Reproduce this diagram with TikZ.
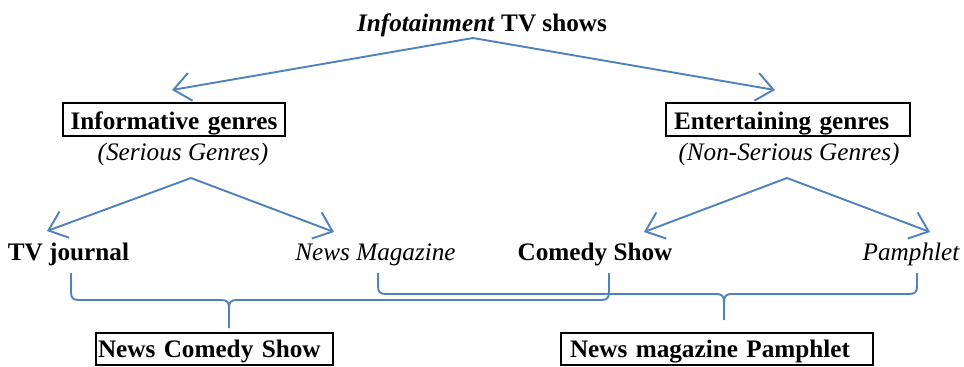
\documentclass[tikz,border=0pt]{standalone}
\usepackage{fontspec}
\setmainfont{Liberation Serif}
\usetikzlibrary{arrows.meta}
\definecolor{lineblue}{RGB}{79,129,189}
\newcommand{\fs}{\fontsize{12.6}{14}\selectfont}
\begin{document}
\begin{tikzpicture}[x=0.5pt,y=-0.5pt,
  conn/.style={draw=lineblue, line width=0.95pt},
  arr/.style={conn, -{Straight Barb[length=8.5pt,width=14pt,line width=0.95pt]}},
  lbl/.style={inner sep=0pt, anchor=base, font=\fs},
  gbox/.style={draw=black, line width=1pt, inner ysep=0pt, anchor=west,
    text height=13pt, text depth=3.5pt, font=\fs\bfseries},
  bbox/.style={gbox, text height=12pt, text depth=4pt}]
\useasboundingbox (0,0) rectangle (964,366);

% texts
\node[lbl] (title) at (482,31) {\textbf{\textit{Infotainment} TV shows}};
\node[gbox, inner xsep=3.5pt, text width=104pt, align=center] (info) at (62,119.5) {Informative genres};
\node[gbox, inner xsep=4pt, text width=114pt, align=left] (ent) at (665,119.5) {Entertaining genres};
\node[lbl, font=\fs\itshape] (ser) at (183,160) {(Serious Genres)};
\node[lbl, font=\fs\itshape] (nonser) at (789,160) {(Non-Serious Genres)};
\node[lbl, font=\fs\bfseries] (tvj) at (68.5,260) {TV journal};
\node[lbl, font=\fs\itshape] (newsmag) at (375.5,260) {News Magazine};
\node[lbl, font=\fs\bfseries] (comedy) at (595,260) {Comedy Show};
\node[lbl, font=\fs\itshape] (pamph) at (911,260) {Pamphlet};
\node[bbox, inner xsep=1pt, text width=116.5pt, align=left] (ncs) at (95,349) {News Comedy Show};
\node[bbox, inner xsep=4.5pt, text width=147pt, align=left] (nmp) at (560,349) {News magazine Pamphlet};

% connector end points
\coordinate (topapex) at (473,38);
\coordinate (infotip) at (172,90);
\coordinate (enttip) at (775,90);
\coordinate (serapex) at (191,178);
\coordinate (tvjtip) at (47,231);
\coordinate (nmtip) at (334,232);
\coordinate (nsapex) at (787,178);
\coordinate (cstip) at (644,232);
\coordinate (ptip) at (930,232);
\coordinate (tvjfoot) at (71,273);
\coordinate (csfoot) at (609,273);
\coordinate (nmfoot) at (378,273);
\coordinate (pfoot) at (917,273);
\coordinate (ncstop) at (229,328);
\coordinate (nmptop) at (724,320);

% arrows
\draw[arr] (topapex) -- (infotip);
\draw[arr] (topapex) -- (enttip);
\draw[arr] (serapex) -- (tvjtip);
\draw[arr] (serapex) -- (nmtip);
\draw[arr] (nsapex) -- (cstip);
\draw[arr] (nsapex) -- (ptip);

% brace 1: TV journal + Comedy Show -> News Comedy Show
\draw[conn] (tvjfoot) -- (71,292) .. controls (71,298) and (73,300) .. (79,300)
  -- (221,300) .. controls (227,300) and (229,302) .. (229,308) -- (ncstop);
\draw[conn] (229,308) .. controls (229,302) and (231,300) .. (237,300)
  -- (601,300) .. controls (607,300) and (609,298) .. (609,292) -- (csfoot);

% brace 2: News Magazine + Pamphlet -> News magazine Pamphlet
\draw[conn] (nmfoot) -- (378,286) .. controls (378,292) and (380,294) .. (386,294)
  -- (716,294) .. controls (722,294) and (724,296) .. (724,302) -- (nmptop);
\draw[conn] (724,302) .. controls (724,296) and (726,294) .. (732,294)
  -- (909,294) .. controls (915,294) and (917,292) .. (917,286) -- (pfoot);
\end{tikzpicture}
\end{document}
